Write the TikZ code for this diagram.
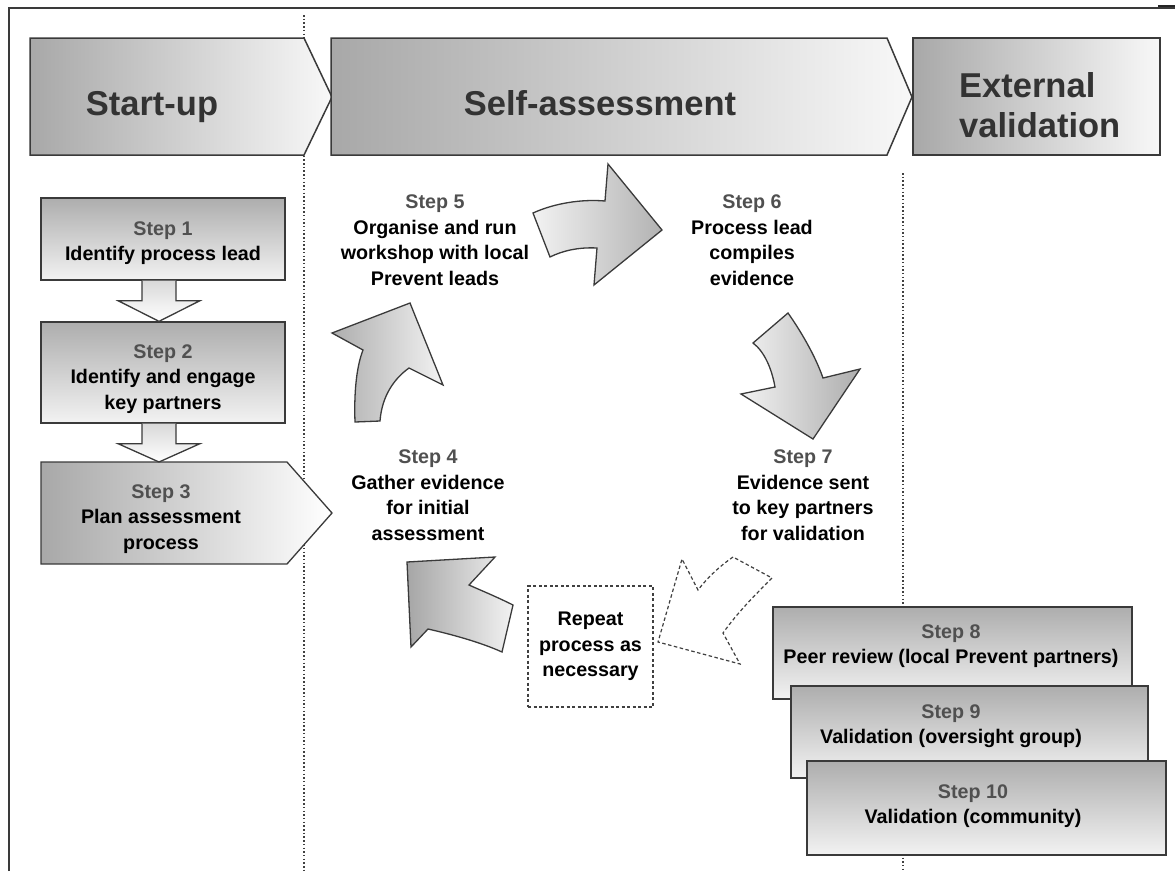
\documentclass[tikz,border=0pt]{standalone}
\usepackage{fontspec}
\setmainfont{Liberation Sans}
\usetikzlibrary{calc}
\definecolor{edgegrey}{HTML}{3A3A3A}
\definecolor{stepgrey}{HTML}{505050}
\definecolor{darkfill}{HTML}{A8A8A8}
\definecolor{lightfill}{HTML}{F8F8F8}
\newcommand\stpno[1]{{\color{stepgrey}Step #1}\\}
\newcommand\blockdown[2]{\draw[downarrow] ($(#1.south)+(-21,0)$) -- ++(0,20) -- ++(-24,0) -- (#2) -- ($(#1.south)+(37,20)$) -- ++(-24,0) -- ++(0,-20);}
\tikzset{
  boxedge/.style={draw=edgegrey, line width=1.3pt, line join=miter},
  phase/.style={boxedge, line width=1.5pt, left color=darkfill, right color=lightfill},
  phasetext/.style={font=\fontsize{34.5}{40}\selectfont\bfseries, text=black!80, inner sep=0pt},
  stepbox/.style={boxedge, top color=black!32, bottom color=black!5},
  steptext/.style={font=\fontsize{19.7}{25.5}\selectfont\bfseries, align=center, inner sep=0pt},
  downarrow/.style={boxedge, top color=black!15, bottom color=white},
  divider/.style={draw=black!75, line width=1.5pt, dash pattern=on 1.5pt off 2.2pt}
}
\begin{document}
\begin{tikzpicture}[x=1pt, y=-1pt]
\useasboundingbox (0,0) rectangle (1175,871);
% frame and phase dividers
\draw[edgegrey, line width=1.5pt] (9,871) -- (9,8) -- (1175,8);
\draw[black!85, line width=2.5pt] (1158,6) -- (1175,6);
\draw[divider] (304,15) -- (304,871);
\draw[divider] (903,173) -- (903,871);
% phases
\draw[phase] (30,38) -- (304,38) -- (332,97) -- (304,155) -- (30,155) -- cycle;
\draw[phase] (331,38) -- (887,38) -- (912,97) -- (887,155) -- (331,155) -- cycle;
\draw[phase] (913,38) rectangle (1160,155);
\node[phasetext, anchor=base] (startup) at (152,115) {Start-up};
\node[phasetext, anchor=base] (selfassess) at (600,115) {Self-assessment};
\node[phasetext, anchor=west, align=left] (extval) at (959,105) {External\\validation};
% start-up steps
\node[stepbox, minimum width=244, minimum height=82] (box1) at (163,239) {};
\node[stepbox, minimum width=244, minimum height=101] (box2) at (163,372.5) {};
\draw[boxedge, left color=darkfill, right color=white] (41,462) -- (287,462) -- (332,513) -- (287,564) -- (41,564) -- cycle;
\coordinate (box3top) at (159,462);
\blockdown{box1}{$(box2.north)+(-4,0)$}
\blockdown{box2}{box3top}
\node[steptext] (s1) at (163,243) {\stpno{1}Identify process lead};
\node[steptext] (s2) at (163,379) {\stpno{2}Identify and engage\\key partners};
\node[steptext] (s3) at (161,519) {\stpno{3}Plan assessment\\process};
% self-assessment cycle
\draw[boxedge, left color=black!32, right color=black!5] (355,422) .. controls (354,395) and (356,368) .. (363,350) -- (332,333) -- (410,303) -- (443,385) -- (409,368) .. controls (395,378) and (382,395) .. (380,421) -- cycle;
\draw[boxedge, left color=black!5, right color=black!30] (533,213) .. controls (555,203) and (582,199) .. (605,201) -- (608,164) -- (662,230) -- (594,285) -- (597,248) .. controls (578,247) and (562,251) .. (550,257) -- cycle;
\draw[boxedge, left color=black!5, right color=black!32] (753,343) -- (788,313) .. controls (800,330) and (815,355) .. (823,378) -- (860,369) -- (813,439) -- (741,394) -- (775,387) .. controls (772,370) and (765,352) .. (753,343) -- cycle;
\draw[black!75, line width=1.2pt, dash pattern=on 3.5pt off 2.5pt, line join=miter] (733,557) .. controls (720,566) and (708,577) .. (698,590) -- (682,559) -- (658,642) -- (740,664) -- (723,633) .. controls (738,612) and (755,595) .. (772,578) -- cycle;
\draw[boxedge, left color=black!35, right color=black!5] (513,605) .. controls (495,596) and (480,590) .. (469,585) -- (495,557) -- (407,562) -- (411,647) -- (428,629) .. controls (450,634) and (480,642) .. (502,652) -- cycle;
\node[steptext] (s5) at (435,240) {\stpno{5}Organise and run\\workshop with local\\Prevent leads};
\node[steptext] (s6) at (752,240) {\stpno{6}Process lead\\compiles\\evidence};
\node[steptext] (s4) at (428,495) {\stpno{4}Gather evidence\\for initial\\assessment};
\node[steptext] (s7) at (803,495) {\stpno{7}Evidence sent\\to key partners\\for validation};
\node[steptext, draw=black!75, line width=1.2pt, dash pattern=on 3pt off 2.5pt, minimum width=125, minimum height=121] (repeat) at (590.5,646.5) {Repeat\\process as\\necessary};
% external validation
\node[stepbox, minimum width=359, minimum height=92] (box8) at (952.5,653) {};
\node[steptext] (s8) at (951,646) {\stpno{8}Peer review (local Prevent partners)};
\node[stepbox, minimum width=357, minimum height=92] (box9) at (969.5,732) {};
\node[steptext] (s9) at (951,726) {\stpno{9}Validation (oversight group)};
\node[stepbox, minimum width=359, minimum height=94] (box10) at (986.5,808) {};
\node[steptext] (s10) at (973,806) {\stpno{10}Validation (community)};
\end{tikzpicture}
\end{document}
